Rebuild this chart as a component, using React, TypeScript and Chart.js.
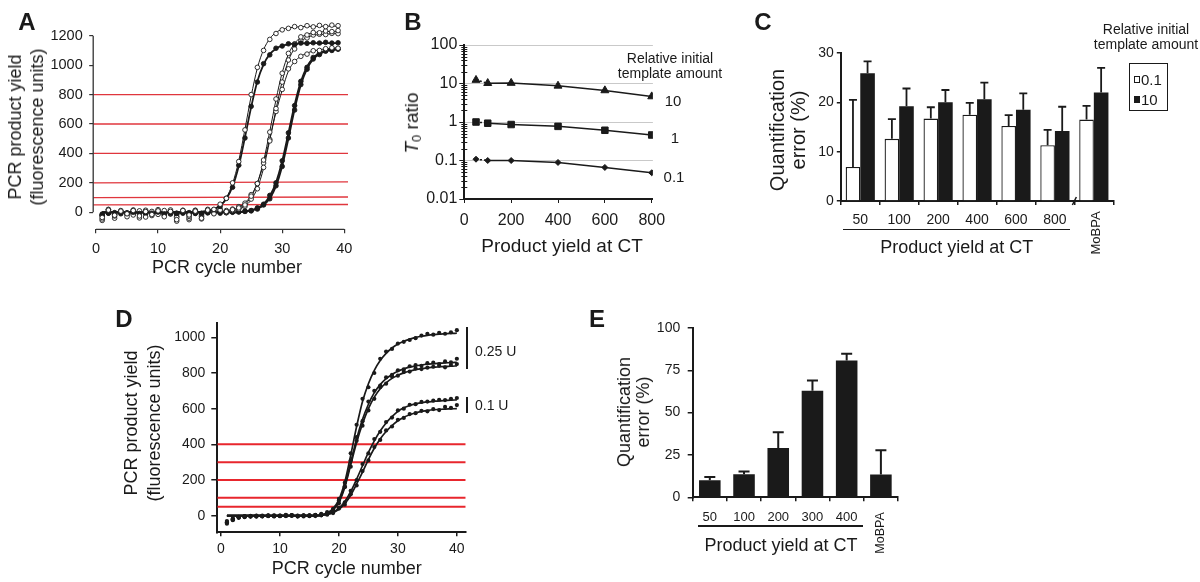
import React, { useEffect, useRef } from 'react';
import { Chart, registerables } from 'chart.js';

Chart.register(...registerables);

const FONT = '"Liberation Sans", Arial, Helvetica, sans-serif';
const INK = '#1a1a1a';
const RED_A = '#e0363d';
const RED_D = '#e8262d';
Chart.defaults.font.family = FONT;
Chart.defaults.color = INK;

// ---------------- Panel A data ----------------
const cyclesA = [1, 2, 3, 4, 5, 6, 7, 8, 9, 10, 11, 12, 13, 14, 15, 16, 17, 18, 19, 20, 21, 22, 23, 24, 25, 26, 27, 28, 29, 30, 31, 32, 33, 34, 35, 36, 37, 38, 39];
const ptsA1 = [-35, 15, -20, 8, -10, 12, -25, 5, -15, 10, -30, 6, -50, 12, -18, 8, -40, 15, 20, 55, 95, 200, 345, 560, 800, 985, 1100, 1175, 1215, 1240, 1250, 1262, 1255, 1268, 1260, 1270, 1262, 1272, 1268];
const fitA1 = [0, 0, 0, 0, 0, 0, 0, 0, 0, 0, 0, 0, 0, 0, 0, 0, 5, 11, 24, 50, 100, 195, 350, 565, 790, 980, 1105, 1180, 1222, 1243, 1253, 1258, 1261, 1263, 1264, 1264, 1265, 1265, 1265];
const ptsA2 = [-20, -5, -12, -2, -8, 0, -10, -3, -6, 2, -12, -4, -8, -2, -15, -5, -10, 5, 18, 40, 95, 170, 320, 505, 720, 885, 1010, 1070, 1115, 1130, 1145, 1140, 1150, 1148, 1152, 1150, 1155, 1150, 1152];
const fitA2 = [0, 0, 0, 0, 0, 0, 0, 0, 0, 0, 0, 0, 0, 0, 0, 0, 4, 10, 22, 45, 90, 175, 315, 510, 715, 890, 1005, 1075, 1112, 1132, 1141, 1146, 1148, 1149, 1150, 1150, 1150, 1150, 1150];
const ptsA3 = [-45, 18, -15, 5, -30, 10, -8, 14, -22, 4, -12, 16, -35, 8, -28, 12, -45, 20, -10, 15, 5, 18, 30, 50, 110, 195, 355, 545, 770, 945, 1080, 1145, 1192, 1205, 1222, 1220, 1232, 1228, 1235];
const fitA3 = [0, 0, 0, 0, 0, 0, 0, 0, 0, 0, 0, 0, 0, 0, 0, 0, 0, 0, 0, 0, 6, 13, 27, 54, 106, 199, 348, 550, 765, 949, 1074, 1148, 1188, 1209, 1220, 1225, 1228, 1229, 1230];
const ptsA4 = [-55, 8, -25, 12, -5, -18, 10, -32, 6, -14, 12, -8, -60, 4, -40, 14, -20, 10, -5, 12, 0, 12, 22, 40, 90, 160, 305, 485, 705, 885, 1035, 1110, 1165, 1185, 1205, 1210, 1208, 1216, 1214];
const fitA4 = [0, 0, 0, 0, 0, 0, 0, 0, 0, 0, 0, 0, 0, 0, 0, 0, 0, 0, 0, 0, 4, 9, 20, 42, 85, 165, 300, 490, 700, 890, 1030, 1115, 1162, 1188, 1202, 1208, 1211, 1213, 1215];
const ptsA5 = [-25, 20, -40, 2, -15, 16, -38, 10, -12, 18, -20, 10, -28, 14, -50, 6, -30, 16, 8, 20, 12, 22, 38, 62, 120, 195, 335, 495, 685, 835, 975, 1025, 1060, 1075, 1098, 1100, 1112, 1118, 1115];
const fitA5 = [0, 0, 0, 0, 0, 0, 0, 0, 0, 0, 0, 0, 0, 0, 0, 0, 0, 0, 0, 5, 10, 20, 35, 65, 115, 200, 330, 500, 680, 830, 960, 1025, 1060, 1082, 1096, 1105, 1111, 1115, 1118];
const ptsA6 = [-12, -3, -8, 0, -5, -10, -2, -6, 2, -8, -4, -12, -6, 0, -9, -3, -7, -1, -4, 2, -3, 0, 4, 8, 12, 30, 55, 115, 200, 350, 540, 725, 890, 985, 1052, 1080, 1100, 1105, 1112];
const fitA6 = [0, 0, 0, 0, 0, 0, 0, 0, 0, 0, 0, 0, 0, 0, 0, 0, 0, 0, 0, 0, 0, 0, 0, 6, 14, 29, 57, 111, 203, 348, 538, 731, 888, 990, 1050, 1083, 1098, 1107, 1111];
const ptsA7 = [-18, -6, -2, -10, -4, 0, -7, -12, -5, -1, -9, -3, -14, -6, -2, -8, -11, -4, 0, -6, -2, 3, 2, 6, 10, 22, 50, 92, 180, 312, 505, 695, 868, 972, 1042, 1072, 1095, 1100, 1108];
const fitA7 = [0, 0, 0, 0, 0, 0, 0, 0, 0, 0, 0, 0, 0, 0, 0, 0, 0, 0, 0, 0, 0, 0, 0, 5, 11, 24, 48, 95, 178, 315, 500, 700, 865, 975, 1040, 1075, 1093, 1102, 1107];
const openA = [true, false, true, true, true, false, false];
const thresholdsA = [800, 600, 400, 200, 100, 50];
const thresholdsAEnd = [800, 600, 400, 207, 104, 53];
const yTicksA = [0, 200, 400, 600, 800, 1000, 1200];
const xTicksCycle = [0, 10, 20, 30, 40];

// ---------------- Panel B data ----------------
const yieldB = [50, 100, 200, 400, 600, 800];
const ratio10 = [12.3, 10.2, 10.3, 8.7, 6.6, 4.6];
const ratio1 = [1.0, 0.93, 0.86, 0.77, 0.61, 0.46];
const ratio01 = [0.108, 0.1, 0.1, 0.089, 0.066, 0.048];
const yTicksB = [0.01, 0.1, 1, 10, 100];
const xTicksB = [0, 200, 400, 600, 800];

// ---------------- Panel C data ----------------
const catsC = ['50', '100', '200', '400', '600', '800', 'MoBPA'];
const errC01 = [6.9, 12.6, 16.7, 17.5, 15.2, 11.3, 16.5];
const sdC01 = [13.6, 4.0, 2.3, 2.4, 2.2, 3.1, 2.8];
const errC10 = [25.9, 19.2, 20.0, 20.6, 18.5, 14.2, 22.0];
const sdC10 = [2.4, 3.6, 2.5, 3.4, 3.3, 4.9, 5.0];
const yTicksC = [0, 10, 20, 30];

// ---------------- Panel D data ----------------
const cyclesD = [1, 2, 3, 4, 5, 6, 7, 8, 9, 10, 11, 12, 13, 14, 15, 16, 17, 18, 19, 20, 21, 22, 23, 24, 25, 26, 27, 28, 29, 30, 31, 32, 33, 34, 35, 36, 37, 38, 39, 40];
const ptsD1 = [-35, -15, -8, -5, -3, -2, -4, 0, -2, -1, 5, 2, -3, 0, 2, 5, 10, 20, 38, 95, 185, 350, 510, 655, 720, 800, 880, 920, 935, 965, 975, 985, 995, 1010, 1020, 1015, 1025, 1020, 1028, 1040];
const fitD1 = [0, 0, 0, 0, 0, 0, 0, 0, 0, 0, 0, 0, 0, 0, 0, 0, 5, 15, 40, 90, 190, 340, 500, 640, 740, 815, 870, 910, 940, 962, 978, 990, 1000, 1006, 1011, 1015, 1018, 1020, 1022, 1023];
const ptsD2 = [-40, -20, -10, -6, -2, -4, 0, -3, 1, -2, 3, -1, 0, -4, 2, 4, 6, 10, 30, 85, 160, 310, 440, 530, 640, 700, 730, 775, 790, 815, 820, 838, 845, 840, 855, 858, 850, 865, 860, 880];
const fitD2 = [0, 0, 0, 0, 0, 0, 0, 0, 0, 0, 0, 0, 0, 0, 0, 0, 4, 12, 35, 80, 170, 300, 430, 540, 625, 690, 735, 768, 792, 810, 823, 833, 840, 845, 849, 852, 855, 857, 858, 860];
const ptsD3 = [-45, -25, -12, -8, -5, -1, -3, 2, -4, 0, -2, 1, -5, 2, -1, 3, 3, 14, 28, 70, 165, 275, 420, 505, 590, 655, 720, 740, 780, 785, 805, 808, 825, 822, 830, 835, 840, 832, 845, 850];
const fitD3 = [0, 0, 0, 0, 0, 0, 0, 0, 0, 0, 0, 0, 0, 0, 0, 0, 4, 11, 32, 75, 160, 285, 410, 515, 600, 665, 712, 745, 770, 788, 801, 811, 819, 825, 829, 832, 835, 837, 838, 840];
const ptsD4 = [-30, -18, -6, -2, -5, 0, -3, -1, 2, -2, 0, 4, -1, 1, -3, 2, 5, 10, 18, 45, 75, 140, 200, 290, 350, 430, 470, 525, 550, 590, 600, 622, 625, 638, 640, 645, 650, 648, 655, 660];
const fitD4 = [0, 0, 0, 0, 0, 0, 0, 0, 0, 0, 0, 0, 0, 0, 0, 0, 3, 8, 20, 42, 80, 135, 205, 280, 355, 420, 475, 520, 555, 585, 605, 618, 627, 633, 638, 641, 644, 646, 648, 649];
const ptsD5 = [-38, -22, -9, -4, -1, -5, -2, 1, -3, 0, -1, 3, -2, 0, 1, -2, 2, 6, 15, 40, 62, 120, 170, 250, 310, 385, 425, 478, 500, 538, 548, 570, 575, 588, 585, 598, 592, 610, 605, 620];
const fitD5 = [0, 0, 0, 0, 0, 0, 0, 0, 0, 0, 0, 0, 0, 0, 0, 0, 3, 7, 17, 36, 68, 115, 178, 245, 315, 378, 430, 472, 505, 532, 552, 566, 577, 585, 590, 594, 596, 598, 599, 600];
const thresholdsD = [400, 300, 200, 100, 50];
const yTicksD = [0, 200, 400, 600, 800, 1000];

// ---------------- Panel E data ----------------
const catsE = ['50', '100', '200', '300', '400', 'MoBPA'];
const errE = [10.1, 13.6, 29.1, 62.9, 80.8, 13.4];
const sdE = [1.9, 1.7, 9.3, 6.0, 3.9, 14.4];
const yTicksE = [0, 25, 50, 75, 100];

// ---------------- layout helpers ----------------
type Box = { cx: number; cy: number; cw: number; ch: number; L: number; T: number; R: number; B: number };

const boxA: Box = { cx: 0, cy: 0, cw: 362, ch: 262, L: 93.2, T: 21, R: 348, B: 229.3 };
const boxB: Box = { cx: 372, cy: 20, cw: 330, ch: 220, L: 464.3, T: 45, R: 652.9, B: 199 };
const boxC: Box = { cx: 745, cy: 20, cw: 385, ch: 215, L: 840.8, T: 53, R: 1113.3, B: 201 };
const boxD: Box = { cx: 130, cy: 308, cw: 420, ch: 255, L: 217.3, T: 322.7, R: 465.7, B: 532.3 };
const boxE: Box = { cx: 600, cy: 312, cw: 310, ch: 220, L: 692.7, T: 325.7, R: 898, B: 497.3 };

function xy(xs: number[], ys: number[]) {
  return ys.map((v, i) => ({ x: xs[i], y: v }));
}
function baseOptions(b: Box) {
  return {
    animation: false,
    responsive: false,
    maintainAspectRatio: false,
    devicePixelRatio: 1,
    events: [],
    layout: { padding: { left: 0, top: b.T - b.cy, right: b.cx + b.cw - b.R, bottom: 0 } },
    plugins: { legend: { display: false }, tooltip: { enabled: false } },
  };
}
const yFit = (b: Box) => (s: any) => { s.width = b.L - b.cx; };
const xFit = (b: Box) => (s: any) => { s.height = b.cy + b.ch - b.B; };
const fixedTicks = (vals: number[]) => (s: any) => { s.ticks = vals.map((v) => ({ value: v })); };
const plain = (v: any) => String(v);

function errorBarPlugin(sds: number[][], cap: number, lw: number) {
  return {
    id: 'errbars',
    afterDatasetsDraw(chart: any) {
      const ctx = chart.ctx;
      const y = chart.scales.y;
      ctx.save();
      ctx.strokeStyle = INK;
      ctx.lineWidth = lw;
      sds.forEach((sd, di) => {
        const meta = chart.getDatasetMeta(di);
        const vals = chart.data.datasets[di].data;
        meta.data.forEach((el: any, j: number) => {
          const top = y.getPixelForValue(vals[j] + sd[j]);
          ctx.beginPath();
          ctx.moveTo(el.x, el.y);
          ctx.lineTo(el.x, top);
          ctx.moveTo(el.x - cap, top);
          ctx.lineTo(el.x + cap, top);
          ctx.stroke();
        });
      });
      ctx.restore();
    },
  };
}

// ---------------- chart configs ----------------
function configA(b: Box) {
  const xRange = [-0.45, 40.6];
  const pts = [ptsA1, ptsA2, ptsA3, ptsA4, ptsA5, ptsA6, ptsA7];
  const fits = [fitA1, fitA2, fitA3, fitA4, fitA5, fitA6, fitA7];
  const datasets: any[] = [];
  pts.forEach((p, i) => {
    datasets.push({
      data: xy(cyclesA, p), showLine: false, pointRadius: 2.3, pointBorderWidth: 0.9,
      pointBorderColor: INK, pointBackgroundColor: openA[i] ? '#fff' : INK,
    });
  });
  fits.forEach((f, i) => {
    datasets.push({
      data: xy(cyclesA, f), borderColor: INK, borderWidth: openA[i] ? 1 : 1.8, pointRadius: 0,
      cubicInterpolationMode: 'monotone', fill: false,
    });
  });
  thresholdsA.forEach((t, i) => {
    datasets.push({
      data: [{ x: xRange[0], y: t }, { x: xRange[1], y: thresholdsAEnd[i] }],
      borderColor: RED_A, borderWidth: 1.3, pointRadius: 0,
    });
  });
  return {
    type: 'line',
    data: { datasets },
    options: {
      ...baseOptions(b),
      scales: {
        x: {
          type: 'linear', min: xRange[0], max: xRange[1], afterFit: xFit(b), afterBuildTicks: fixedTicks(xTicksCycle),
          grid: { drawOnChartArea: false, tickLength: 4, color: '#333', lineWidth: 1.2 },
          border: { display: false },
          ticks: { font: { size: 14.5 }, padding: 7, color: INK, maxRotation: 0, callback: plain },
        },
        y: {
          type: 'linear', min: -115.5, max: 1300, afterFit: yFit(b), afterBuildTicks: fixedTicks(yTicksA),
          grid: { drawOnChartArea: false, tickLength: 4, color: '#333', lineWidth: 1.2 },
          border: { display: false },
          ticks: { font: { size: 14.5 }, padding: 6.5, color: INK, callback: plain },
        },
      },
    },
    plugins: [
      {
        id: 'axesA',
        afterDraw(chart: any) {
          const { ctx, chartArea: a } = chart;
          const x = chart.scales.x;
          const y = chart.scales.y;
          ctx.save();
          ctx.strokeStyle = '#333';
          ctx.lineWidth = 1.3;
          ctx.beginPath();
          ctx.moveTo(a.left, y.getPixelForValue(yTicksA[0]));
          ctx.lineTo(a.left, y.getPixelForValue(yTicksA[yTicksA.length - 1]));
          ctx.moveTo(x.getPixelForValue(xTicksCycle[0]), a.bottom);
          ctx.lineTo(x.getPixelForValue(xTicksCycle[xTicksCycle.length - 1]), a.bottom);
          ctx.stroke();
          ctx.restore();
        },
      },
    ],
  };
}

function configB(b: Box) {
  const common = {
    borderColor: INK, backgroundColor: INK, pointBackgroundColor: INK, pointBorderColor: INK,
    borderWidth: 1.5, pointBorderWidth: 1,
    segment: { borderDash: (ctx: any) => (ctx.p0DataIndex === 0 ? [2, 2] : undefined) },
  };
  return {
    type: 'line',
    data: {
      datasets: [
        { ...common, data: xy(yieldB, ratio10), pointStyle: 'triangle', pointRadius: 4.6 },
        { ...common, data: xy(yieldB, ratio1), pointStyle: 'rect', pointRadius: 4.6 },
        { ...common, data: xy(yieldB, ratio01), pointStyle: 'rectRot', pointRadius: 3 },
      ],
    },
    options: {
      ...baseOptions(b),
      scales: {
        x: {
          type: 'linear', min: 0, max: 805, afterFit: xFit(b), afterBuildTicks: fixedTicks(xTicksB),
          grid: { drawOnChartArea: false, tickLength: 4, color: INK },
          border: { display: true, color: INK, width: 2 },
          ticks: { font: { size: 16 }, padding: 8, color: INK, maxRotation: 0, callback: plain },
        },
        y: {
          type: 'logarithmic', min: 0.01, max: 100, afterFit: yFit(b), afterBuildTicks: fixedTicks(yTicksB),
          grid: {
            drawOnChartArea: true, tickLength: 5, tickColor: INK, lineWidth: 1,
            color: (ctx: any) => (ctx.tick && ctx.tick.value === yTicksB[0] ? 'rgba(0,0,0,0)' : '#c9c9c9'),
          },
          border: { display: true, color: INK, width: 2 },
          ticks: { font: { size: 16 }, padding: 2, color: INK, callback: plain },
        },
      },
    },
    plugins: [
      {
        id: 'minorLog',
        afterDraw(chart: any) {
          const { ctx, chartArea: a } = chart;
          const y = chart.scales.y;
          ctx.save();
          ctx.strokeStyle = INK;
          ctx.lineWidth = 1;
          for (let d = 0; d < yTicksB.length - 1; d++) {
            for (let m = 2; m <= 9; m++) {
              const py = Math.round(y.getPixelForValue(yTicksB[d] * m)) + 0.5;
              ctx.beginPath();
              ctx.moveTo(a.left - 3, py);
              ctx.lineTo(a.left + 3, py);
              ctx.stroke();
            }
          }
          ctx.restore();
        },
      },
    ],
  };
}

function configC(b: Box) {
  return {
    type: 'bar',
    data: {
      labels: catsC,
      datasets: [
        { data: errC01, backgroundColor: '#fff', borderColor: INK, borderWidth: 1.3, categoryPercentage: 0.75, barPercentage: 1 },
        { data: errC10, backgroundColor: INK, borderWidth: 0, categoryPercentage: 0.75, barPercentage: 1 },
      ],
    },
    options: {
      ...baseOptions(b),
      scales: {
        x: {
          afterFit: xFit(b),
          grid: { drawOnChartArea: false, tickLength: 4, color: INK, offset: true, lineWidth: 1.5 },
          border: { display: true, color: INK, width: 2 },
          ticks: {
            font: { size: 14 }, padding: 7, color: INK, autoSkip: false, maxRotation: 0,
            callback: (_v: any, i: number) => (catsC[i] === 'MoBPA' ? '' : catsC[i]),
          },
        },
        y: {
          min: 0, max: 30, afterFit: yFit(b), afterBuildTicks: fixedTicks(yTicksC),
          grid: { drawOnChartArea: false, tickLength: 4, color: INK, lineWidth: 1.5 },
          border: { display: true, color: INK, width: 2 },
          ticks: { font: { size: 14 }, padding: 3, color: INK, callback: plain },
        },
      },
    },
    plugins: [
      errorBarPlugin([sdC01, sdC10], 4, 1.8),
      {
        id: 'breakC',
        afterDraw(chart: any) {
          const { ctx, chartArea: a } = chart;
          const x = chart.scales.x;
          const n = catsC.length;
          const bx = (x.getPixelForTick(n - 2) + x.getPixelForTick(n - 1)) / 2;
          ctx.save();
          ctx.strokeStyle = INK;
          ctx.lineWidth = 1.5;
          ctx.beginPath();
          ctx.moveTo(bx - 2, a.bottom + 4);
          ctx.lineTo(bx + 2, a.bottom - 4);
          ctx.stroke();
          ctx.restore();
        },
      },
    ],
  };
}

function configD(b: Box) {
  const xRange = [-0.63, 41.5];
  const pts = [ptsD1, ptsD2, ptsD3, ptsD4, ptsD5];
  const fits = [fitD1, fitD2, fitD3, fitD4, fitD5];
  const datasets: any[] = [];
  pts.forEach((p) => {
    datasets.push({ data: xy(cyclesD, p), showLine: false, pointRadius: 2.1, pointBorderWidth: 0, pointBackgroundColor: INK });
  });
  fits.forEach((f) => {
    datasets.push({ data: xy(cyclesD, f), borderColor: INK, borderWidth: 1.7, pointRadius: 0, cubicInterpolationMode: 'monotone', fill: false });
  });
  thresholdsD.forEach((t) => {
    datasets.push({ data: [{ x: xRange[0], y: t }, { x: xRange[1], y: t }], borderColor: RED_D, borderWidth: 2, pointRadius: 0 });
  });
  return {
    type: 'line',
    data: { datasets },
    options: {
      ...baseOptions(b),
      scales: {
        x: {
          type: 'linear', min: xRange[0], max: xRange[1], afterFit: xFit(b), afterBuildTicks: fixedTicks(xTicksCycle),
          grid: { drawOnChartArea: false, tickLength: 4, color: INK, lineWidth: 1.5 },
          border: { display: true, color: INK, width: 2 },
          ticks: { font: { size: 14 }, padding: 4.5, color: INK, maxRotation: 0, callback: plain },
        },
        y: {
          type: 'linear', min: -93, max: 1082, afterFit: yFit(b), afterBuildTicks: fixedTicks(yTicksD),
          grid: { drawOnChartArea: false, tickLength: 6, color: INK, lineWidth: 1.5 },
          border: { display: true, color: INK, width: 2 },
          ticks: { font: { size: 14 }, padding: 6, color: INK, callback: plain },
        },
      },
    },
  };
}

function configE(b: Box) {
  return {
    type: 'bar',
    data: {
      labels: catsE,
      datasets: [{ data: errE, backgroundColor: INK, borderWidth: 0, categoryPercentage: 0.7, barPercentage: 0.9 }],
    },
    options: {
      ...baseOptions(b),
      scales: {
        x: {
          afterFit: xFit(b),
          grid: { drawOnChartArea: false, tickLength: 4, color: INK, offset: true, lineWidth: 1.5 },
          border: { display: true, color: INK, width: 2 },
          ticks: {
            font: { size: 13 }, padding: 8, color: INK, autoSkip: false, maxRotation: 0,
            callback: (_v: any, i: number) => (catsE[i] === 'MoBPA' ? '' : catsE[i]),
          },
        },
        y: {
          min: 0, max: 100, afterFit: yFit(b), afterBuildTicks: fixedTicks(yTicksE),
          grid: { drawOnChartArea: false, tickLength: 5, color: INK, lineWidth: 1.5 },
          border: { display: true, color: INK, width: 2 },
          ticks: { font: { size: 14 }, padding: 7.5, color: INK, callback: plain },
        },
      },
    },
    plugins: [errorBarPlugin([sdE], 5.5, 2)],
  };
}

// ---------------- components ----------------
function ChartCanvas({ box, build }: { box: Box; build: (b: Box) => any }) {
  const ref = useRef<HTMLCanvasElement>(null);
  useEffect(() => {
    const chart = new Chart(ref.current as HTMLCanvasElement, build(box));
    return () => chart.destroy();
  }, []);
  return (
    <canvas
      ref={ref}
      width={box.cw}
      height={box.ch}
      style={{ position: 'absolute', left: box.cx, top: box.cy, width: box.cw, height: box.ch }}
    />
  );
}

function Txt({ x, y, size, children, bold, rot, left, lh }: any) {
  const style: React.CSSProperties = {
    position: 'absolute',
    left: x,
    top: y,
    fontFamily: FONT,
    fontSize: size,
    fontWeight: bold ? 700 : 400,
    lineHeight: lh ? `${lh}px` : 1,
    whiteSpace: 'nowrap',
    color: INK,
    textAlign: 'center',
    transform: `${left ? 'translate(0,-50%)' : 'translate(-50%,-50%)'}${rot ? ` rotate(${rot}deg)` : ''}`,
  };
  return <div style={style}>{children}</div>;
}

function Rule({ x, y, w, h }: any) {
  return <div style={{ position: 'absolute', left: x, top: y, width: w, height: h, background: INK }} />;
}

export default function App() {
  return (
    <div style={{ position: 'absolute', left: 0, top: 0, width: 1200, height: 582, background: '#fff', overflow: 'hidden' }}>
      <ChartCanvas box={boxA} build={configA} />
      <ChartCanvas box={boxB} build={configB} />
      <ChartCanvas box={boxC} build={configC} />
      <ChartCanvas box={boxD} build={configD} />
      <ChartCanvas box={boxE} build={configE} />

      {/* panel letters */}
      <Txt x={27} y={22} size={24} bold>A</Txt>
      <Txt x={413} y={21.5} size={24} bold>B</Txt>
      <Txt x={763} y={21.7} size={24} bold>C</Txt>
      <Txt x={124} y={319} size={24} bold>D</Txt>
      <Txt x={597} y={319} size={24} bold>E</Txt>

      {/* A */}
      <Txt x={26} y={127} size={18} rot={-90} lh={22}>PCR product yield<br />(fluorescence units)</Txt>
      <Txt x={227} y={266.7} size={18}>PCR cycle number</Txt>

      {/* B */}
      <Txt x={413} y={123} size={19} rot={-90}>
        <span><i>T</i><sub style={{ fontSize: '0.68em', verticalAlign: '-0.25em' }}>0</sub> ratio</span>
      </Txt>
      <Txt x={562} y={245} size={19}>Product yield at CT</Txt>
      <Txt x={670} y={58.3} size={14}>Relative initial</Txt>
      <Txt x={670} y={73.3} size={14}>template amount</Txt>
      <Txt x={673} y={100} size={15}>10</Txt>
      <Txt x={675} y={136.7} size={15}>1</Txt>
      <Txt x={674} y={175.7} size={15}>0.1</Txt>

      {/* C */}
      <Txt x={788} y={130} size={20} rot={-90} lh={21}>Quantification<br />error (%)</Txt>
      <Rule x={843} y={228.6} w={227} h={1.5} />
      <Txt x={956.7} y={246.7} size={18}>Product yield at CT</Txt>
      <Txt x={1095} y={233} size={13} rot={-90}>MoBPA</Txt>
      <Txt x={1146} y={29} size={14}>Relative initial</Txt>
      <Txt x={1146} y={44.3} size={14}>template amount</Txt>
      <div style={{ position: 'absolute', left: 1129, top: 63, width: 39, height: 48, border: `1.5px solid ${INK}`, boxSizing: 'border-box' }} />
      <div style={{ position: 'absolute', left: 1134, top: 75.5, width: 5.5, height: 7, border: `1.3px solid ${INK}`, boxSizing: 'border-box', background: '#fff' }} />
      <Txt x={1141} y={79} size={15} left>0.1</Txt>
      <div style={{ position: 'absolute', left: 1134, top: 95.5, width: 5.5, height: 7, background: INK }} />
      <Txt x={1141} y={99} size={15} left>10</Txt>

      {/* D */}
      <Txt x={143} y={423} size={18} rot={-90} lh={23}>PCR product yield<br />(fluorescence units)</Txt>
      <Txt x={346.7} y={568} size={18}>PCR cycle number</Txt>
      <Rule x={465.7} y={327} w={2} h={42.3} />
      <Txt x={475} y={351} size={14} left>0.25 U</Txt>
      <Rule x={465.7} y={396.7} w={2} h={16.6} />
      <Txt x={475} y={405} size={14} left>0.1 U</Txt>

      {/* E */}
      <Txt x={634} y={411.7} size={18} rot={-90} lh={19}>Quantification<br />error (%)</Txt>
      <Rule x={698} y={525} w={165} h={1.5} />
      <Txt x={781} y={545} size={18}>Product yield at CT</Txt>
      <Txt x={880} y={533} size={12.5} rot={-90}>MoBPA</Txt>
    </div>
  );
}
